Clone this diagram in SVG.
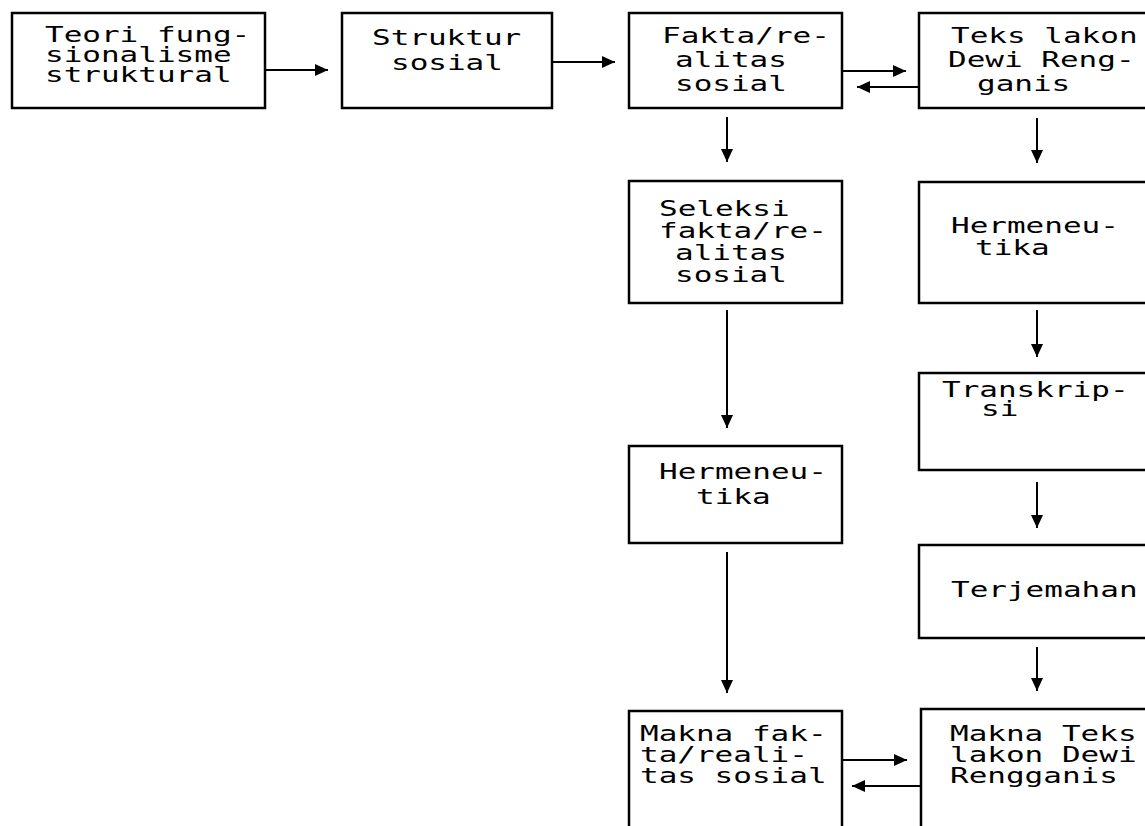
<svg xmlns="http://www.w3.org/2000/svg" width="1145" height="826" viewBox="0 0 1145 826">
<style>
.box{fill:#fff;stroke:#000;stroke-width:2.5}
.t{font-family:"DejaVu Sans Mono","Liberation Mono",monospace;font-size:31px;fill:#000}
.c{stroke:#000;stroke-width:2;fill:none;marker-end:url(#ah)}
</style>
<defs>
<marker id="ah" viewBox="0 0 13 12" refX="13" refY="6" markerWidth="13" markerHeight="12" markerUnits="userSpaceOnUse" orient="auto">
<path d="M0,0 L13,6 L0,12 z" fill="#000"/>
</marker>
</defs>
<rect width="1145" height="826" fill="#fff"/>
<g id="n1">
<rect class="box" x="12" y="13" width="253" height="95"/>
<text class="t" transform="translate(45,42) scale(1,0.66)">Teori fung-</text>
<text class="t" transform="translate(45,62) scale(1,0.66)">sionalisme</text>
<text class="t" transform="translate(45,82) scale(1,0.66)">struktural</text>
</g>
<g id="n2">
<rect class="box" x="342" y="13" width="210" height="95"/>
<text class="t" transform="translate(372,45) scale(1,0.66)">Struktur</text>
<text class="t" transform="translate(391,70) scale(1,0.66)">sosial</text>
</g>
<g id="n3">
<rect class="box" x="629" y="13" width="213" height="95"/>
<text class="t" transform="translate(662,43) scale(1,0.66)">Fakta/re-</text>
<text class="t" transform="translate(675,67) scale(1,0.66)">alitas</text>
<text class="t" transform="translate(675,91) scale(1,0.66)">sosial</text>
</g>
<g id="n4">
<rect class="box" x="919" y="13" width="260" height="95"/>
<text class="t" transform="translate(951,43) scale(1,0.66)">Teks lakon</text>
<text class="t" transform="translate(948,67) scale(1,0.66)">Dewi Reng-</text>
<text class="t" transform="translate(977,91) scale(1,0.66)">ganis</text>
</g>
<g id="n5">
<rect class="box" x="629" y="181" width="213" height="122"/>
<text class="t" transform="translate(659,216) scale(1,0.66)">Seleksi</text>
<text class="t" transform="translate(659,238) scale(1,0.66)">fakta/re-</text>
<text class="t" transform="translate(675,260) scale(1,0.66)">alitas</text>
<text class="t" transform="translate(675,282) scale(1,0.66)">sosial</text>
</g>
<g id="n6">
<rect class="box" x="919" y="182" width="260" height="121"/>
<text class="t" transform="translate(951,233) scale(1,0.66)">Hermeneu-</text>
<text class="t" transform="translate(975,255) scale(1,0.66)">tika</text>
</g>
<g id="n7">
<rect class="box" x="919" y="373" width="260" height="97"/>
<text class="t" transform="translate(942,397) scale(1,0.66)">Transkrip-</text>
<text class="t" transform="translate(981,416) scale(1,0.66)">si</text>
</g>
<g id="n8">
<rect class="box" x="629" y="446" width="213" height="97"/>
<text class="t" transform="translate(659,479) scale(1,0.66)">Hermeneu-</text>
<text class="t" transform="translate(696,504) scale(1,0.66)">tika</text>
</g>
<g id="n9">
<rect class="box" x="919" y="545" width="260" height="93"/>
<text class="t" transform="translate(951,597) scale(1,0.66)">Terjemahan</text>
</g>
<g id="n10">
<rect class="box" x="629" y="711" width="213" height="140"/>
<text class="t" transform="translate(640,741) scale(1,0.66)">Makna fak-</text>
<text class="t" transform="translate(640,762) scale(1,0.66)">ta/reali-</text>
<text class="t" transform="translate(640,783) scale(1,0.66)">tas sosial</text>
</g>
<g id="n11">
<rect class="box" x="921" y="709" width="260" height="140"/>
<text class="t" transform="translate(950,741) scale(1,0.66)">Makna Teks</text>
<text class="t" transform="translate(950,762) scale(1,0.66)">lakon Dewi</text>
<text class="t" transform="translate(950,783) scale(1,0.66)">Rengganis</text>
</g>
<g id="connectors">
<line class="c" x1="265" y1="70" x2="328" y2="70"/>
<line class="c" x1="552" y1="62" x2="615" y2="62"/>
<line class="c" x1="842" y1="71" x2="906" y2="71"/>
<line class="c" x1="919" y1="87" x2="857" y2="87"/>
<line class="c" x1="727" y1="117" x2="727" y2="162"/>
<line class="c" x1="1037" y1="118" x2="1037" y2="163"/>
<line class="c" x1="727" y1="310" x2="727" y2="428"/>
<line class="c" x1="1037" y1="310" x2="1037" y2="357"/>
<line class="c" x1="1037" y1="482" x2="1037" y2="528"/>
<line class="c" x1="727" y1="552" x2="727" y2="693"/>
<line class="c" x1="1037" y1="647" x2="1037" y2="691"/>
<line class="c" x1="842" y1="760" x2="907" y2="760"/>
<line class="c" x1="921" y1="786" x2="852" y2="786"/>
</g>
</svg>
